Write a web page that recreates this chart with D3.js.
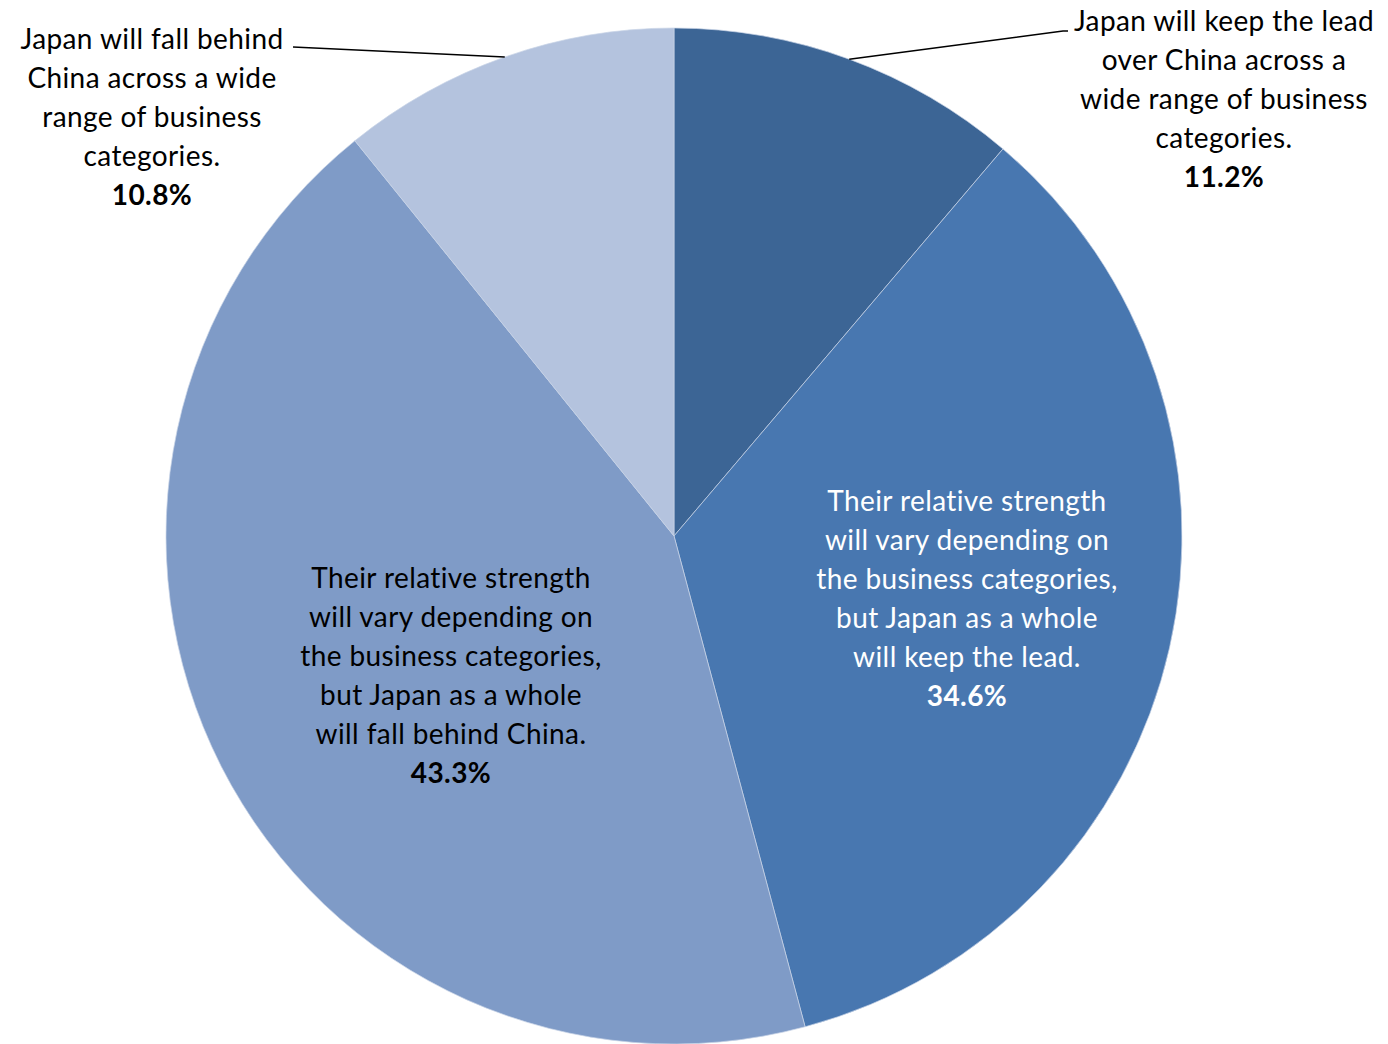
<!DOCTYPE html>
<html>
<head>
<meta charset="utf-8">
<script src="https://cdn.jsdelivr.net/npm/d3@7"></script>
<style>
	body { margin: 0; background: #fff; }
	text { font-family: Lato, "Liberation Sans", sans-serif; font-size: 28px; letter-spacing: 0.4px; }
</style>
</head>
<body>
<div id="chart"></div>
<script>
var width = 1388
var height = 1044

// data
var labels = [
	["Japan will keep the lead", "over China across a", "wide range of business", "categories."],
	["Their relative strength", "will vary depending on", "the business categories,", "but Japan as a whole", "will keep the lead."],
	["Their relative strength", "will vary depending on", "the business categories,", "but Japan as a whole", "will fall behind China."],
	["Japan will fall behind", "China across a wide", "range of business", "categories."]
];
var values = [11.2, 34.6, 43.3, 10.8];
var colors = ["#3c6595", "#4877b0", "#7f9bc7", "#b4c3de"];

var data = values.map(function (v, i) {
	return { value: v, lines: labels[i], color: colors[i], idx: i };
});

var cx = 674, cy = 536, radius = 508;
var lineH = 39;

var svg = d3.select("#chart")
	.append("svg")
	.attr("width", width)
	.attr("height", height);

var g = svg.append("g")
	.attr("transform", "translate(" + cx + "," + cy + ")");

var pie = d3.pie()
	.sort(null)
	.value(function (d) { return d.value; });

var arc = d3.arc()
	.innerRadius(0)
	.outerRadius(radius);

var arcs = pie(data);

g.selectAll("path")
	.data(arcs)
	.enter()
	.append("path")
	.attr("d", arc)
	.attr("fill", function (d) { return d.data.color; })
	.attr("stroke", "#c9d4e6")
	.attr("stroke-width", 0.7);

function pointAt(angle, r) {
	return [Math.sin(angle) * r, -Math.cos(angle) * r];
}

function addLabel(d, x, top, color) {
	var t = g.append("text")
		.attr("text-anchor", "middle")
		.attr("fill", color);
	d.data.lines.forEach(function (line, i) {
		t.append("tspan")
			.attr("x", x)
			.attr("y", top + i * lineH + 10)
			.text(line);
	});
	t.append("tspan")
		.attr("x", x)
		.attr("y", top + d.data.lines.length * lineH + 10)
		.attr("font-weight", "bold")
		.text(d.data.value.toFixed(1) + "%");
}

// inside labels, block centre relative to pie centre
var inside = [
	{ idx: 1, at: [293, 62], color: "#fff" },
	{ idx: 2, at: [-223, 139], color: "#000" }
];
inside.forEach(function (o) {
	var d = arcs[o.idx];
	var n = d.data.lines.length + 1;
	addLabel(d, o.at[0], o.at[1] - (n - 1) * lineH / 2, o.color);
});

// outside labels with leader lines
var outside = [
	{ idx: 0, tx: 1224 - cx, ty: 21 - cy, knee: [1063 - cx, 31 - cy], lineEnd: [1068 - cx, 31 - cy] },
	{ idx: 3, tx: 152 - cx, ty: 39 - cy, knee: [293 - cx, 47 - cy], lineEnd: [293 - cx, 47 - cy] }
];

outside.forEach(function (o) {
	var d = arcs[o.idx];
	var mid = (d.startAngle + d.endAngle) / 2;
	var p = pointAt(mid, radius);
	g.append("polyline")
		.attr("points", [p, o.knee, o.lineEnd].map(function (q) { return q.join(","); }).join(" "))
		.attr("fill", "none")
		.attr("stroke", "#000")
		.attr("stroke-width", 1.5);
	addLabel(d, o.tx, o.ty, "#000");
});
</script>
</body>
</html>
